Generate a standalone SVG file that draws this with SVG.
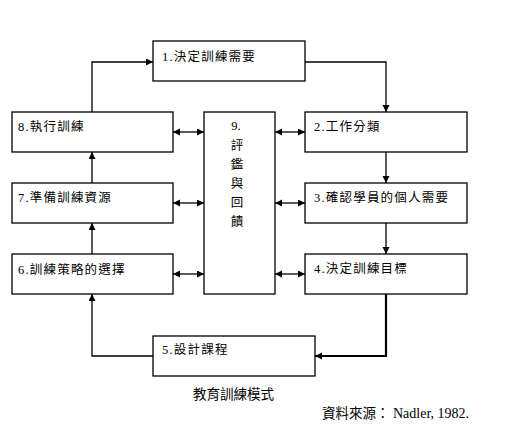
<svg xmlns="http://www.w3.org/2000/svg" width="512" height="426" viewBox="0 0 512 426">
<style>
.box{fill:#fff;stroke:#000;stroke-width:1.3}
.lbl{font-family:"Liberation Serif","Noto Sans CJK TC",serif;font-size:12.5px;letter-spacing:1.2px;fill:#000}
.v{font-family:"Liberation Serif","Noto Sans CJK TC",serif;font-size:12.5px;fill:#000;text-anchor:middle}
.cap{font-family:"Noto Sans CJK TC",sans-serif;font-size:13.5px;fill:#000}
.src{font-family:"Liberation Serif","Noto Sans CJK TC",serif;font-size:14px;fill:#000}
.ln{fill:none;stroke:#000;stroke-width:1.3}
</style>
<defs>
<marker id="ah" markerUnits="userSpaceOnUse" markerWidth="8" markerHeight="8" refX="7" refY="3.5" orient="auto-start-reverse">
<path d="M0,0 L7,3.5 L0,7 z" fill="#000"/>
</marker>
</defs>
<rect width="512" height="426" fill="#fff"/>
<g id="connectors">
<path class="ln" d="M92,112 V62 H153" marker-end="url(#ah)"/>
<path class="ln" d="M305,62 H386 V112" marker-end="url(#ah)"/>
<path class="ln" d="M386,152 V183" marker-end="url(#ah)"/>
<path class="ln" d="M386,223 V254" marker-end="url(#ah)"/>
<path class="ln" d="M386,294 V356 H315" style="stroke-width:2.2" marker-end="url(#ah)"/>
<path class="ln" d="M153,356 H92 V294" marker-end="url(#ah)"/>
<path class="ln" d="M92,254 V223" marker-end="url(#ah)"/>
<path class="ln" d="M92,183 V152" marker-end="url(#ah)"/>
<path class="ln" d="M173,132 H204" marker-start="url(#ah)" marker-end="url(#ah)"/>
<path class="ln" d="M173,203 H204" marker-start="url(#ah)" marker-end="url(#ah)"/>
<path class="ln" d="M173,274 H204" marker-start="url(#ah)" marker-end="url(#ah)"/>
<path class="ln" d="M275,132 H305" marker-start="url(#ah)" marker-end="url(#ah)"/>
<path class="ln" d="M275,203 H305" marker-start="url(#ah)" marker-end="url(#ah)"/>
<path class="ln" d="M275,274 H305" marker-start="url(#ah)" marker-end="url(#ah)"/>
</g>
<g id="n1"><rect class="box" x="153" y="41" width="152" height="40"/><text class="lbl" x="162" y="61">1.決定訓練需要</text></g>
<g id="n2"><rect class="box" x="305" y="112" width="162" height="40"/><text class="lbl" x="314" y="131">2.工作分類</text></g>
<g id="n3"><rect class="box" x="305" y="183" width="162" height="40"/><text class="lbl" x="314" y="202">3.確認學員的個人需要</text></g>
<g id="n4"><rect class="box" x="305" y="254" width="162" height="40"/><text class="lbl" x="314" y="273">4.決定訓練目標</text></g>
<g id="n5"><rect class="box" x="153" y="336" width="162" height="40"/><text class="lbl" x="162" y="354">5.設計課程</text></g>
<g id="n6"><rect class="box" x="12" y="254" width="161" height="40"/><text class="lbl" x="18" y="274">6.訓練策略的選擇</text></g>
<g id="n7"><rect class="box" x="12" y="183" width="161" height="40"/><text class="lbl" x="18" y="202">7.準備訓練資源</text></g>
<g id="n8"><rect class="box" x="12" y="112" width="161" height="40"/><text class="lbl" x="18" y="131">8.執行訓練</text></g>
<g id="n9"><rect class="box" x="204" y="112" width="71" height="182"/>
<text class="v" x="236" y="130">9.</text>
<text class="v" x="237" y="150">評</text>
<text class="v" x="237" y="169">鑑</text>
<text class="v" x="237" y="188">與</text>
<text class="v" x="237" y="207">回</text>
<text class="v" x="237" y="226">饋</text>
</g>
<text class="cap" x="193" y="399">教育訓練模式</text>
<text class="src" x="322" y="418"><tspan font-family="Noto Sans CJK TC, sans-serif" font-size="13.5">資料來源：</tspan> Nadler, 1982.</text>
</svg>
